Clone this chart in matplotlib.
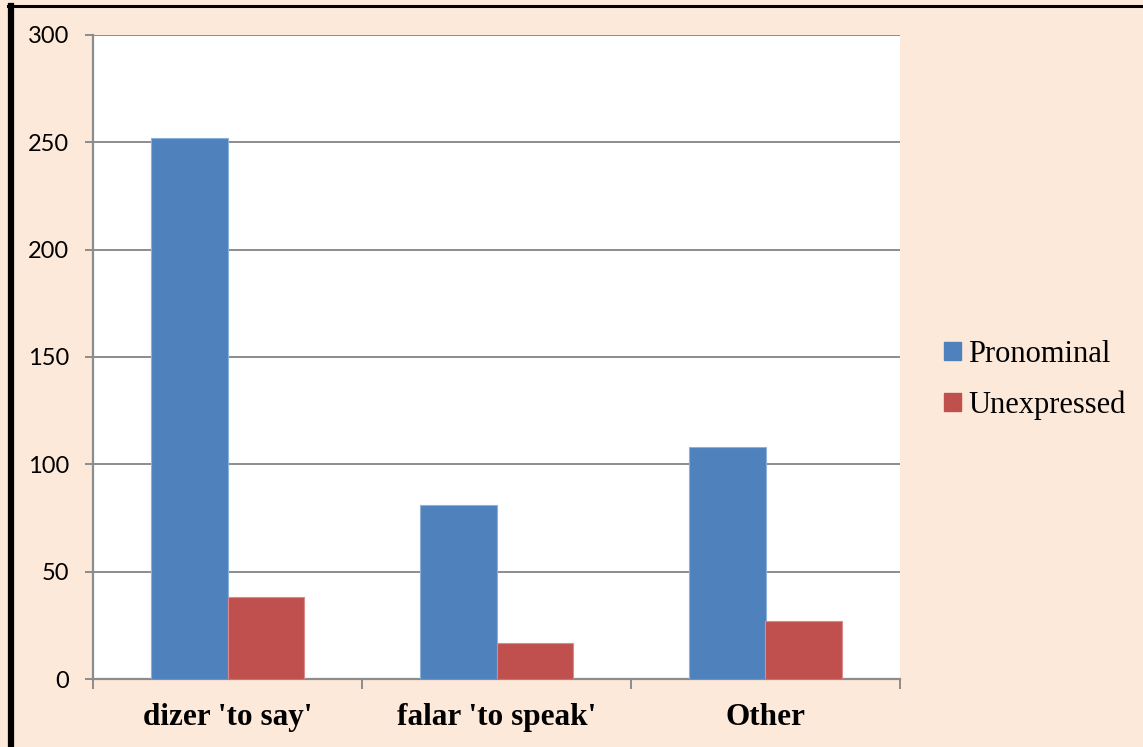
import matplotlib
matplotlib.use("Agg")
import matplotlib.pyplot as plt
from matplotlib.lines import Line2D
from matplotlib.patches import Patch
import numpy as np

categories = ["dizer 'to say'", "falar 'to speak'", "Other"]
pronominal = [252, 81, 108]
unexpressed = [38, 17, 27]
series_names = ["Pronominal", "Unexpressed"]
yticks = [0, 50, 100, 150, 200, 250, 300]

W, H = 1143, 747
fig = plt.figure(figsize=(W / 100, H / 100), dpi=100)
bg = "#FDE9D9"
fig.patch.set_facecolor(bg)

ax = fig.add_axes([93 / W, 1 - 679 / H, (900 - 93) / W, (679 - 35) / H])
ax.set_facecolor("white")

x = np.arange(len(categories))
bw = 0.286
blue, red = "#4F81BD", "#C0504D"
ax.bar(x - bw / 2, pronominal, width=bw, color=blue, edgecolor="#8DB0DD",
       linewidth=0.8, zorder=3)
ax.bar(x + bw / 2, unexpressed, width=bw, color=red, edgecolor="#DA8A88",
       linewidth=0.8, zorder=3)

ax.set_xlim(-0.5, len(categories) - 0.5)
ax.set_ylim(0, 300)
ax.set_yticks(yticks)
ax.set_yticklabels([str(v) for v in yticks], fontsize=17, family="Lato")
ax.yaxis.grid(True, color="#8C8C8C", linewidth=1.4, zorder=0)
ax.set_axisbelow(True)

grey = "#8C8C8C"
for side in ["top", "right"]:
    ax.spines[side].set_visible(False)
for side in ["left", "bottom"]:
    ax.spines[side].set_color(grey)
    ax.spines[side].set_linewidth(1.6)

ax.tick_params(axis="y", length=6, width=1.4, color=grey, pad=11)
# category ticks sit on the boundaries between groups
ax.set_xticks(np.arange(len(categories) + 1) - 0.5)
ax.set_xticklabels([])
ax.set_xticks(x, minor=True)
ax.set_xticklabels(categories, minor=True, fontsize=22.5, fontweight="bold",
                   family="Liberation Serif")
ax.tick_params(axis="x", which="major", length=7, width=1.4, color=grey)
ax.tick_params(axis="x", which="minor", length=0, pad=17)

handles = [Patch(facecolor=blue, edgecolor=blue), Patch(facecolor=red, edgecolor=red)]
leg = fig.legend(handles, series_names, loc="center left",
                 bbox_to_anchor=(944 / W, 1 - 380 / H), frameon=False,
                 prop={"family": "Liberation Serif", "size": 22},
                 handlelength=0.55, handleheight=0.55, handletextpad=0.25,
                 labelspacing=0.7, borderpad=0, borderaxespad=0)

# dark frame along the left and top edges
fig.add_artist(Line2D([11 / W, 11 / W], [0, 1 - 6 / H], color="black",
                      linewidth=4.5, transform=fig.transFigure))
fig.add_artist(Line2D([8 / W, 1], [1 - 6 / H, 1 - 6 / H], color="black",
                      linewidth=2.2, transform=fig.transFigure))

fig.savefig("out.png", dpi=100, facecolor=bg)
